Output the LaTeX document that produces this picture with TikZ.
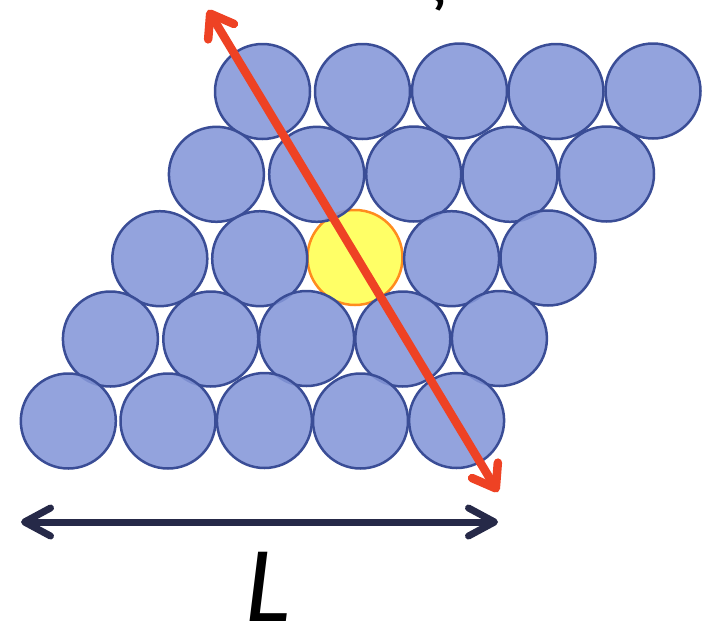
\documentclass[tikz,border=0pt]{standalone}
\usepackage{fontspec}
\setmainfont{Carlito}
\usetikzlibrary{arrows.meta}
\definecolor{ballfill}{RGB}{132,150,216}
\definecolor{balledge}{RGB}{58,77,150}
\definecolor{yelfill}{RGB}{255,255,102}
\definecolor{yeledge}{RGB}{255,140,30}
\definecolor{redarr}{RGB}{238,66,36}
\definecolor{navyarr}{RGB}{38,41,72}
\tikzset{
  ball/.style={circle, draw=balledge, fill=ballfill, fill opacity=0.88, draw opacity=1, line width=2.5pt, minimum size=95pt, inner sep=0pt},
  yball/.style={circle, draw=yeledge, fill=yelfill, line width=2.5pt, minimum size=95pt, inner sep=0pt},
  redline/.style={draw=redarr, line width=8.5pt,
    {Straight Barb[length=21pt,width=30pt,round]}-{Straight Barb[length=21pt,width=30pt,round]}},
  navyline/.style={draw=navyarr, line width=7pt,
    {Straight Barb[length=26pt,width=28pt,round]}-{Straight Barb[length=26pt,width=28pt,round]}},
}
\begin{document}
\begin{tikzpicture}[x=1pt,y=-1pt]
\useasboundingbox (0,0) rectangle (706,624);
% yellow particle (under its neighbours)
\node[yball] (c3) at (355,257.5) {};
% row 1
\node[ball] (a1) at (262.5,91.5) {};
\node[ball] (a2) at (362.5,91.5) {};
\node[ball] (a3) at (459.5,91) {};
\node[ball] (a4) at (556,91.5) {};
\node[ball] (a5) at (653,91) {};
% row 2
\node[ball] (b1) at (216.4,174.3) {};
\node[ball] (b2) at (316.7,174.3) {};
\node[ball] (b3) at (413.7,174) {};
\node[ball] (b4) at (510,174.3) {};
\node[ball] (b5) at (606.5,174) {};
% row 3
\node[ball] (c1) at (159.8,258.7) {};
\node[ball] (c2) at (259.7,258.7) {};
\node[ball] (c4) at (451.6,258.7) {};
\node[ball] (c5) at (548,258) {};
% row 4
\node[ball] (d1) at (110.4,339) {};
\node[ball] (d2) at (210.8,339) {};
\node[ball] (d3) at (306.6,338.5) {};
\node[ball] (d4) at (402.8,339) {};
\node[ball] (d5) at (499.4,338.5) {};
% row 5
\node[ball] (e1) at (68.3,421) {};
\node[ball] (e2) at (168,421) {};
\node[ball] (e3) at (264.4,420.5) {};
\node[ball] (e4) at (360.5,421) {};
\node[ball] (e5) at (456.6,420.5) {};
% red arrow
\coordinate (rt) at (208,10);
\coordinate (rb) at (498,492);
\draw[redline] (rt) -- (rb);
% navy arrow
\coordinate (nl) at (21,522);
\coordinate (nr) at (498,522);
\draw[navyline] (nl) -- (nr);
% labels
\node[anchor=base, inner sep=0pt, font=\fontsize{108}{108}\selectfont\itshape] (Llab) at (268,621) {L};
\node[anchor=base, inner sep=0pt, font=\fontsize{68}{68}\selectfont\itshape] (xilab) at (432,0) {ξ};
\end{tikzpicture}
\end{document}
